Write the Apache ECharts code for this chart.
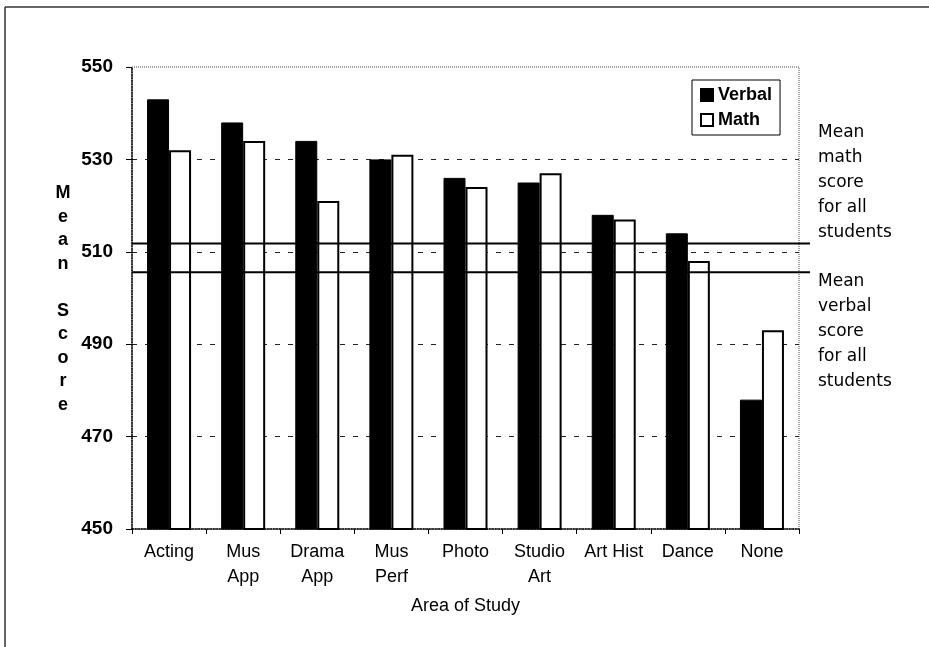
<!DOCTYPE html>
<html>
<head>
    <meta charset="utf-8">
    <title>Mean Score by Area of Study</title>
    <script src="https://cdn.jsdelivr.net/npm/echarts@6/dist/echarts.min.js"></script>
    <style>
        html, body { margin: 0; padding: 0; background: #fff; }
    </style>
</head>
<body>
    <div id="main" style="width: 929px;height:647px;"></div>
    <script type="text/javascript">
        // values
        var categories = ['Acting', 'Mus\nApp', 'Drama\nApp', 'Mus\nPerf', 'Photo', 'Studio\nArt', 'Art Hist', 'Dance', 'None'];
        var verbal = [543, 538, 534, 530, 526, 525, 518, 514, 478];
        var math = [532, 534, 521, 531, 524, 527, 517, 508, 493];
        var meanMath = 511.8;
        var meanVerbal = 505.6;
        var yTicks = [450, 470, 490, 510, 530, 550];

        var myChart = echarts.init(document.getElementById('main'));
        var font = '"Liberation Sans", Arial, Helvetica, sans-serif';
        var sideFont = '"DejaVu Sans", sans-serif';

        // flat line across the plot for a mean value (second grid is a bit wider)
        function meanLine(v) {
            return {
                type: 'line',
                xAxisIndex: 1,
                yAxisIndex: 1,
                data: [[0, v], [1, v]],
                symbol: 'none',
                silent: true,
                z: 5,
                lineStyle: { color: '#000', width: 2 }
            };
        }

        var option = {
            animation: false,
            backgroundColor: '#fff',
            textStyle: { fontFamily: font },
            grid: [{
                left: 132, top: 67, width: 667, height: 462,
                show: true, borderColor: '#444', borderWidth: 1, borderType: 'dotted'
            }, {
                left: 132, top: 67, width: 678, height: 462
            }],
            legend: {
                data: ['Verbal', 'Math'],
                orient: 'vertical',
                left: 692, top: 80,
                padding: [5, 8, 5, 8],
                icon: 'rect',
                itemWidth: 12, itemHeight: 12, itemGap: 5,
                borderColor: '#000', borderWidth: 1,
                backgroundColor: '#fff',
                textStyle: { fontSize: 18, fontWeight: 'bold', color: '#000', lineHeight: 20, fontFamily: font }
            },
            xAxis: [{
                type: 'category',
                data: categories,
                gridIndex: 0,
                name: 'Area of Study',
                nameLocation: 'middle',
                nameGap: 68,
                nameTextStyle: { fontSize: 18, color: '#000', fontFamily: font },
                axisLine: { lineStyle: { color: '#000', width: 1.5, type: 'dotted' } },
                axisTick: { show: true, length: 5, lineStyle: { color: '#000' } },
                axisLabel: { fontSize: 18, color: '#000', lineHeight: 25, margin: 11, interval: 0, fontFamily: font }
            }, {
                type: 'value', gridIndex: 1, min: 0, max: 1, show: false
            }],
            yAxis: [{
                type: 'value',
                gridIndex: 0,
                min: yTicks[0],
                max: yTicks[yTicks.length - 1],
                interval: 20,
                axisLine: { show: true, lineStyle: { color: '#000', width: 1.5, type: 'dotted' } },
                axisTick: { show: true, length: 6, lineStyle: { color: '#000' } },
                axisLabel: { fontSize: 19, fontWeight: 'bold', color: '#000', margin: 19, fontFamily: font },
                splitLine: {
                    show: true,
                    showMinLine: false,
                    showMaxLine: false,
                    lineStyle: { color: '#222', width: 1, type: [5, 8] }
                }
            }, {
                type: 'value', gridIndex: 1, min: yTicks[0], max: yTicks[yTicks.length - 1], show: false
            }],
            series: [{
                name: 'Verbal',
                type: 'bar',
                data: verbal,
                barWidth: 22,
                barGap: '0%',
                itemStyle: { color: '#000', borderColor: '#000', borderWidth: 1 }
            }, {
                name: 'Math',
                type: 'bar',
                data: math,
                barWidth: 22,
                barGap: '0%',
                itemStyle: { color: '#fff', borderColor: '#000', borderWidth: 2 }
            }, meanLine(meanMath), meanLine(meanVerbal)],
            graphic: [{
                type: 'line', silent: true,
                shape: { x1: 5, y1: 7, x2: 929, y2: 7 },
                style: { stroke: '#333', lineWidth: 1.5 }
            }, {
                type: 'line', silent: true,
                shape: { x1: 5, y1: 7, x2: 5, y2: 647 },
                style: { stroke: '#333', lineWidth: 1.5 }
            }, {
                type: 'text', silent: true,
                x: 63, y: 299,
                style: {
                    text: 'M\ne\na\nn\n\nS\nc\no\nr\ne',
                    font: 'bold 18px ' + font,
                    fill: '#000',
                    lineHeight: 23.5,
                    align: 'center',
                    verticalAlign: 'middle'
                }
            }, {
                type: 'text', silent: true,
                left: 818, top: 120,
                style: {
                    text: 'Mean\nmath\nscore\nfor all\nstudents',
                    font: '17px ' + sideFont,
                    fill: '#000',
                    lineHeight: 25
                }
            }, {
                type: 'text', silent: true,
                left: 818, top: 269,
                style: {
                    text: 'Mean\nverbal\nscore\nfor all\nstudents',
                    font: '17px ' + sideFont,
                    fill: '#000',
                    lineHeight: 25
                }
            }]
        };
        myChart.setOption(option);
    </script>
</body>
</html>
